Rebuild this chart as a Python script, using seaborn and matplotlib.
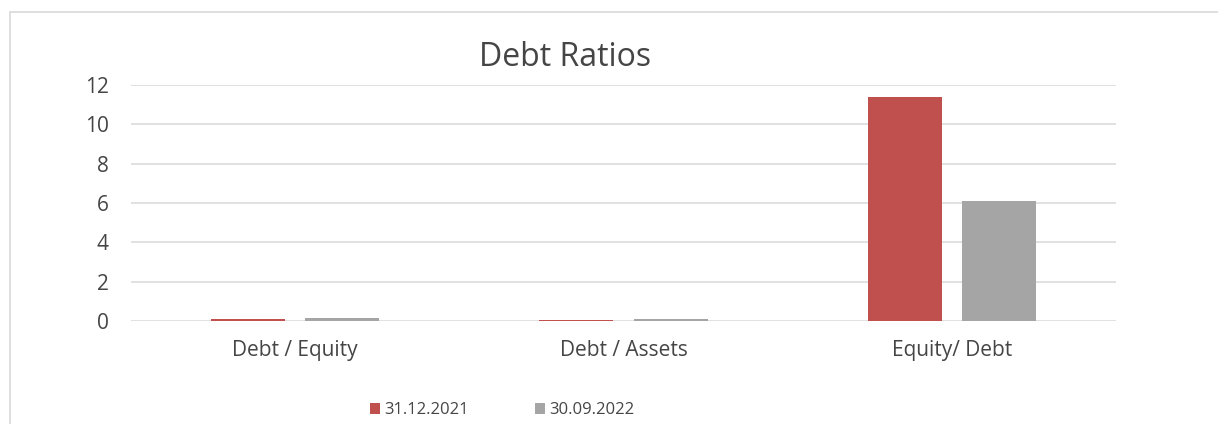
import numpy as np
import pandas as pd
import matplotlib
matplotlib.use("Agg")
import matplotlib.pyplot as plt
import matplotlib.patches as mpatches
import seaborn as sns

categories = ['Debt / Equity', 'Debt / Assets', 'Equity/ Debt']
series = ['31.12.2021', '30.09.2022']
values_2021 = [0.08, 0.07, 11.37]
values_2022 = [0.15, 0.12, 6.08]
yticks = [0, 2, 4, 6, 8, 10, 12]
colors = ['#C0504D', '#A5A5A5']

df = pd.DataFrame({
    'category': categories * 2,
    'period': [series[0]] * 3 + [series[1]] * 3,
    'value': values_2021 + values_2022,
})

sns.set_theme(style='white')
plt.rcParams['font.family'] = ['Open Sans', 'DejaVu Sans']
text_color = '#454545'
grid_color = '#D9D9D9'

fig = plt.figure(figsize=(12.18, 4.24), dpi=100)
ax = fig.add_axes([131 / 1218, 1 - 321 / 424, (1116 - 131) / 1218, (321 - 85) / 424])

sns.barplot(data=df, x='category', y='value', hue='period', order=categories,
            hue_order=series, palette=colors, width=0.573, gap=0.213,
            saturation=1, linewidth=0, ax=ax, legend=False)

ax.set_ylim(0, 12)
ax.set_yticks(yticks)
ax.set_xlabel('')
ax.set_ylabel('')
for s in ax.spines.values():
    s.set_visible(False)
ax.yaxis.grid(True, color=grid_color, linewidth=1.1)
ax.set_axisbelow(True)
ax.tick_params(axis='y', length=0, pad=16, labelsize=15, labelcolor=text_color)
ax.tick_params(axis='x', length=0, pad=14, labelsize=15, labelcolor=text_color)

fig.text(565 / 1218, 1 - 66 / 424, 'Debt Ratios', ha='center', va='baseline',
         fontsize=23, color=text_color)

handles = [mpatches.Patch(facecolor=c, edgecolor='none', label=l) for c, l in zip(colors, series)]
fig.legend(handles=handles, loc='center', bbox_to_anchor=(502 / 1218, 1 - 410 / 424),
           ncol=2, frameon=False, fontsize=12, labelcolor=text_color,
           handlelength=0.62, handleheight=0.62, handletextpad=0.22, columnspacing=4.0)

# chart area border
border = mpatches.Rectangle((10 / 1218, -0.1), 2, 1 - 12 / 424 + 0.1, transform=fig.transFigure,
                            fill=False, edgecolor=grid_color, linewidth=1.2)
fig.patches.append(border)

fig.savefig('out.png', dpi=100, facecolor='white')
